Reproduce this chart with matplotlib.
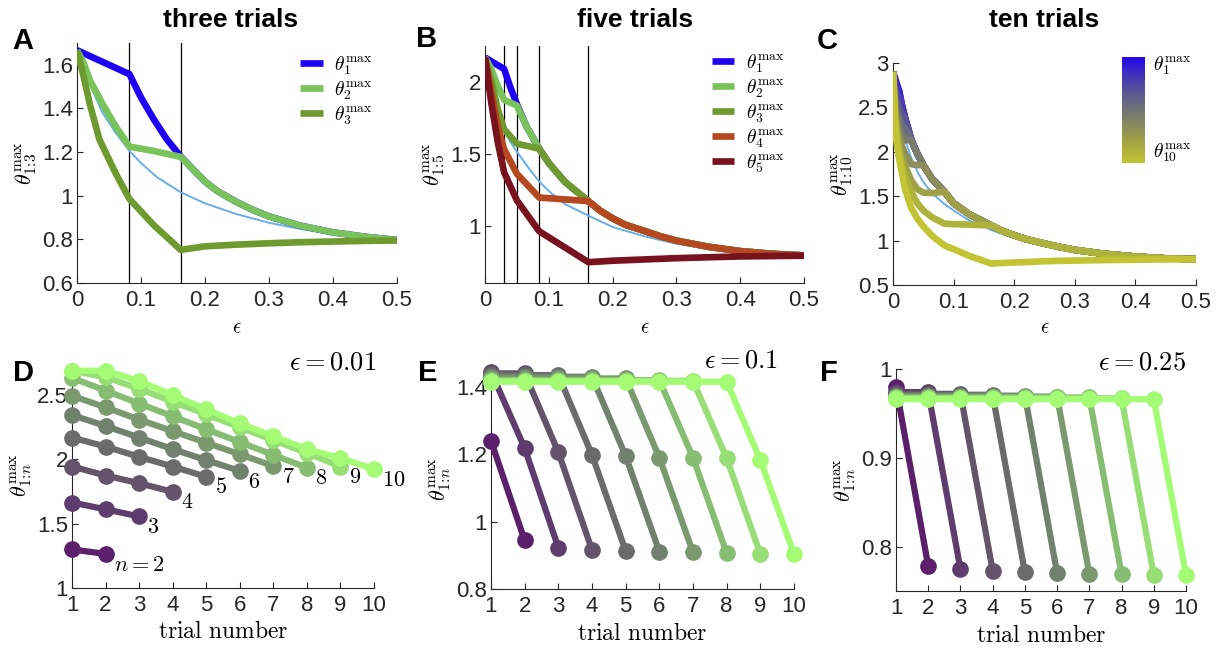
import matplotlib
matplotlib.use('Agg')
import matplotlib.pyplot as plt
import numpy as np
from matplotlib.colors import LinearSegmentedColormap
from matplotlib.ticker import FormatStrFormatter

plt.rcParams['font.family'] = ['Liberation Sans', 'DejaVu Sans']
plt.rcParams['mathtext.fontset'] = 'cm'

W, H = 1220, 650

# ---------------- panel A: three trials ----------------
a_kinks = [0.082, 0.162]
a_thin_eps = [0, 0.01, 0.02, 0.04, 0.06, 0.082, 0.1, 0.125, 0.162, 0.2, 0.25, 0.3, 0.35, 0.4, 0.45, 0.5]
a_thin = [1.667, 1.585, 1.51, 1.38, 1.29, 1.205, 1.15, 1.085, 1.016, 0.965, 0.915, 0.876, 0.847, 0.825, 0.808, 0.797]
a_env_eps = [0.18, 0.2, 0.22, 0.25, 0.275, 0.3, 0.35, 0.4, 0.45, 0.5]
a_env = [1.125, 1.065, 1.02, 0.97, 0.935, 0.905, 0.862, 0.832, 0.812, 0.797]
a1_eps = [0, 0.082, 0.1, 0.12, 0.14, 0.162]
a1 = [1.667, 1.557, 1.45, 1.35, 1.26, 1.18]
a2_eps = [0, 0.01, 0.02, 0.04, 0.06, 0.082, 0.12, 0.162]
a2 = [1.667, 1.61, 1.53, 1.42, 1.32, 1.225, 1.205, 1.178]
a3_eps = [0, 0.01, 0.02, 0.035, 0.06, 0.082, 0.12, 0.162, 0.2, 0.25, 0.3, 0.35, 0.4, 0.45, 0.5]
a3 = [1.667, 1.55, 1.42, 1.258, 1.105, 0.985, 0.865, 0.752, 0.768, 0.776, 0.782, 0.787, 0.79, 0.793, 0.795]

# ---------------- panel B: five trials ----------------
b_kinks = [0.03, 0.05, 0.085, 0.162]
b_thin_eps = [0, 0.01, 0.02, 0.03, 0.04, 0.05, 0.07, 0.085, 0.1, 0.125, 0.162, 0.2, 0.25, 0.3, 0.35, 0.4, 0.45, 0.5]
b_thin = [2.17, 1.97, 1.80, 1.665, 1.58, 1.515, 1.39, 1.307, 1.24, 1.15, 1.069, 0.99, 0.925, 0.873, 0.842, 0.82, 0.803, 0.792]
b_env_eps = [0.03, 0.04, 0.05, 0.065, 0.085, 0.1, 0.125, 0.162, 0.18, 0.2, 0.22, 0.25, 0.275, 0.3, 0.35, 0.4, 0.45, 0.5]
b_env = [2.09, 1.96, 1.845, 1.69, 1.535, 1.435, 1.305, 1.17, 1.105, 1.05, 1.005, 0.962, 0.925, 0.895, 0.852, 0.822, 0.803, 0.792]
b1_eps = [0]
b1 = [2.17]
b2_eps = [0, 0.01, 0.02, 0.03, 0.05]
b2 = [2.17, 2.09, 1.97, 1.875, 1.835]
b3_eps = [0, 0.01, 0.02, 0.03, 0.05, 0.085]
b3 = [2.17, 2.01, 1.81, 1.67, 1.57, 1.535]
b4_eps = [0, 0.01, 0.02, 0.03, 0.05, 0.085, 0.162]
b4 = [2.17, 1.93, 1.69, 1.53, 1.36, 1.195, 1.17]
b5_eps = [0, 0.01, 0.02, 0.03, 0.05, 0.085, 0.162, 0.2, 0.3, 0.4, 0.5]
b5 = [2.17, 1.85, 1.58, 1.37, 1.175, 0.96, 0.745, 0.755, 0.773, 0.785, 0.79]

# ---------------- panel C: ten trials ----------------
c_eps = [0, 0.003, 0.006, 0.01, 0.015, 0.02, 0.03, 0.04, 0.05, 0.065, 0.085,
         0.1, 0.125, 0.162, 0.18, 0.2, 0.22, 0.25, 0.275, 0.3, 0.35, 0.4, 0.45, 0.5]
c_thin = [2.9, 2.72, 2.6, 2.45, 2.28, 2.14, 1.93, 1.78, 1.66, 1.53, 1.41,
          1.34, 1.23, 1.12, 1.075, 1.03, 0.995, 0.95, 0.918, 0.89, 0.85, 0.82, 0.80, 0.79]
c_theta = [
    [2.9, 2.84, 2.77, 2.69, 2.52, 2.38, 2.14, 1.98, 1.85, 1.69, 1.55, 1.42, 1.30, 1.17, 1.11, 1.06, 1.015, 0.966, 0.928, 0.895, 0.85, 0.82, 0.80, 0.79],
    [2.9, 2.80, 2.74, 2.69, 2.52, 2.38, 2.14, 1.98, 1.85, 1.69, 1.55, 1.42, 1.30, 1.17, 1.11, 1.06, 1.015, 0.966, 0.928, 0.895, 0.85, 0.82, 0.80, 0.79],
    [2.9, 2.75, 2.66, 2.61, 2.52, 2.38, 2.14, 1.98, 1.85, 1.69, 1.55, 1.42, 1.30, 1.17, 1.11, 1.06, 1.015, 0.966, 0.928, 0.895, 0.85, 0.82, 0.80, 0.79],
    [2.9, 2.70, 2.58, 2.50, 2.41, 2.38, 2.14, 1.98, 1.85, 1.69, 1.55, 1.42, 1.30, 1.17, 1.11, 1.06, 1.015, 0.966, 0.928, 0.895, 0.85, 0.82, 0.80, 0.79],
    [2.9, 2.64, 2.50, 2.39, 2.30, 2.26, 2.14, 1.98, 1.85, 1.69, 1.55, 1.42, 1.30, 1.17, 1.11, 1.06, 1.015, 0.966, 0.928, 0.895, 0.85, 0.82, 0.80, 0.79],
    [2.9, 2.58, 2.42, 2.28, 2.19, 2.13, 2.13, 1.98, 1.85, 1.69, 1.55, 1.42, 1.30, 1.17, 1.11, 1.06, 1.015, 0.966, 0.928, 0.895, 0.85, 0.82, 0.80, 0.79],
    [2.9, 2.52, 2.34, 2.18, 2.06, 1.98, 1.86, 1.85, 1.85, 1.69, 1.55, 1.42, 1.30, 1.17, 1.11, 1.06, 1.015, 0.966, 0.928, 0.895, 0.85, 0.82, 0.80, 0.79],
    [2.9, 2.46, 2.26, 2.08, 1.94, 1.84, 1.68, 1.58, 1.54, 1.535, 1.55, 1.42, 1.30, 1.17, 1.11, 1.06, 1.015, 0.966, 0.928, 0.895, 0.85, 0.82, 0.80, 0.79],
    [2.9, 2.42, 2.20, 2.01, 1.85, 1.73, 1.55, 1.42, 1.34, 1.26, 1.19, 1.185, 1.18, 1.17, 1.11, 1.06, 1.015, 0.966, 0.928, 0.895, 0.85, 0.82, 0.80, 0.79],
    [2.9, 2.35, 2.10, 1.925, 1.75, 1.58, 1.37, 1.25, 1.16, 1.05, 0.945, 0.904, 0.83, 0.742, 0.748, 0.753, 0.758, 0.768, 0.772, 0.775, 0.781, 0.785, 0.788, 0.79],
]

# ---------------- panels D-F: value per trial, for n = 2..10 ----------------
n_values = [2, 3, 4, 5, 6, 7, 8, 9, 10]
d_vals = [
    [1.30, 1.265],
    [1.665, 1.612, 1.557],
    [1.945, 1.875, 1.815, 1.748],
    [2.17, 2.10, 2.02, 1.945, 1.865],
    [2.345, 2.26, 2.17, 2.08, 1.995, 1.91],
    [2.495, 2.405, 2.31, 2.22, 2.13, 2.04, 1.948],
    [2.635, 2.535, 2.435, 2.335, 2.235, 2.135, 2.035, 1.935],
    [2.69, 2.64, 2.55, 2.45, 2.35, 2.25, 2.15, 2.05, 1.945],
    [2.69, 2.69, 2.61, 2.50, 2.39, 2.28, 2.18, 2.08, 2.01, 1.925],
]
e_vals = [
    [1.24, 0.944],
    [1.445, 1.218, 0.923],
    [1.44, 1.44, 1.206, 0.916],
    [1.435, 1.435, 1.435, 1.198, 0.913],
    [1.43, 1.43, 1.43, 1.43, 1.195, 0.911],
    [1.425, 1.425, 1.425, 1.425, 1.425, 1.19, 0.909],
    [1.42, 1.42, 1.42, 1.42, 1.42, 1.42, 1.19, 0.907],
    [1.418, 1.418, 1.418, 1.418, 1.418, 1.418, 1.418, 1.188, 0.904],
    [1.415, 1.415, 1.415, 1.415, 1.415, 1.415, 1.415, 1.415, 1.183, 0.904],
]
f_vals = [
    [0.980, 0.778],
    [0.974, 0.974, 0.7745],
    [0.972, 0.972, 0.972, 0.773],
    [0.971, 0.971, 0.971, 0.971, 0.771],
    [0.970, 0.970, 0.970, 0.970, 0.970, 0.770],
    [0.969, 0.969, 0.969, 0.969, 0.969, 0.969, 0.769],
    [0.968, 0.968, 0.968, 0.968, 0.968, 0.968, 0.968, 0.769],
    [0.967, 0.967, 0.967, 0.967, 0.967, 0.967, 0.967, 0.967, 0.768],
    [0.966, 0.966, 0.966, 0.966, 0.966, 0.966, 0.966, 0.966, 0.966, 0.768],
]

# colours
thin_col = '#6aaee8'
a_cols = ['#1f00f5', '#78c45a', '#6e9a30']
b_cols = ['#1f00f5', '#78c45a', '#6e9a30', '#b5481f', '#78121f']
c_cols = [(0.15, 0.02, 0.92), (0.22, 0.14, 0.80), (0.29, 0.25, 0.68), (0.36, 0.34, 0.58),
          (0.42, 0.42, 0.50), (0.48, 0.49, 0.42), (0.55, 0.56, 0.35), (0.62, 0.63, 0.28),
          (0.69, 0.70, 0.23), (0.76, 0.77, 0.20)]
n_cols = [(0.36, 0.12, 0.42), (0.37, 0.24, 0.43), (0.39, 0.33, 0.42), (0.42, 0.42, 0.42),
          (0.44, 0.51, 0.43), (0.48, 0.60, 0.43), (0.53, 0.74, 0.45), (0.59, 0.87, 0.46),
          (0.64, 0.99, 0.45)]

fig = plt.figure(figsize=(W / 100, H / 100), dpi=100)


def px_axes(left, top, right, bottom):
    return fig.add_axes([left / W, 1 - bottom / H, (right - left) / W, (bottom - top) / H])


def ftext(x, y, s, **kw):
    fig.text(x / W, 1 - y / H, s, **kw)


def style(ax):
    for side in ['top', 'right']:
        ax.spines[side].set_visible(False)
    for side in ['left', 'bottom']:
        ax.spines[side].set_linewidth(0.8)
        ax.spines[side].set_color('#262626')
    ax.tick_params(direction='in', length=4, width=0.8, labelsize=16, colors='#262626')
    ax.tick_params(axis='x', pad=5)
    ax.tick_params(axis='y', pad=3)
    ax.yaxis.set_major_formatter(FormatStrFormatter('%g'))
    ax.xaxis.set_major_formatter(FormatStrFormatter('%g'))


LW = 4.8
thick = dict(lw=LW, solid_joinstyle='round', solid_capstyle='butt')
leg_kw = dict(loc='upper right', frameon=False, fontsize=14, handlelength=1.15,
              handletextpad=0.6, labelspacing=0.1, borderpad=0.0)

# ---- A ----
axA = px_axes(77, 43, 397, 283)
for k in a_kinks:
    axA.axvline(k, color='black', lw=0.9, zorder=1)
axA.plot(a_thin_eps, a_thin, color=thin_col, lw=1.4, zorder=2)
axA.plot(a1_eps + a_env_eps, a1 + a_env, color=a_cols[0], label=r'$\theta_1^{\max}$', zorder=3, **thick)
axA.plot(a2_eps + a_env_eps, a2 + a_env, color=a_cols[1], label=r'$\theta_2^{\max}$', zorder=4, **thick)
axA.plot(a3_eps, a3, color=a_cols[2], label=r'$\theta_3^{\max}$', zorder=5, **thick)
axA.set_xlim(0, 0.5)
axA.set_ylim(0.6, 1.7)
axA.set_yticks([0.6, 0.8, 1, 1.2, 1.4, 1.6])
axA.set_xticks([0, 0.1, 0.2, 0.3, 0.4, 0.5])
style(axA)
axA.set_ylabel(r'$\theta^{\max}_{1\!:\!3}$', fontsize=16, labelpad=2)
axA.set_xlabel(r'$\epsilon$', fontsize=15, labelpad=5)
axA.legend(bbox_to_anchor=(0.955, 0.995), **leg_kw)

# ---- B ----
axB = px_axes(485, 46, 804, 283)
for k in b_kinks:
    axB.axvline(k, color='black', lw=0.9, zorder=1)
axB.plot(b_thin_eps, b_thin, color=thin_col, lw=1.4, zorder=2)
b_curves = [(b1_eps + b_env_eps, b1 + b_env),
            (b2_eps + b_env_eps[3:], b2 + b_env[3:]),
            (b3_eps + b_env_eps[5:], b3 + b_env[5:]),
            (b4_eps + b_env_eps[8:], b4 + b_env[8:]),
            (b5_eps, b5)]
for i, (xs, ys) in enumerate(b_curves):
    axB.plot(xs, ys, color=b_cols[i], label=r'$\theta_%d^{\max}$' % (i + 1), zorder=3 + i, **thick)
axB.set_xlim(0, 0.5)
axB.set_ylim(0.6, 2.25)
axB.set_yticks([1, 1.5, 2])
axB.set_xticks([0, 0.1, 0.2, 0.3, 0.4, 0.5])
style(axB)
axB.set_ylabel(r'$\theta^{\max}_{1\!:\!5}$', fontsize=16, labelpad=2)
axB.set_xlabel(r'$\epsilon$', fontsize=15, labelpad=5)
axB.legend(bbox_to_anchor=(0.97, 1.015), **leg_kw)

# ---- C ----
axC = px_axes(893, 63, 1196, 285)
axC.plot(c_eps, c_thin, color=thin_col, lw=1.4, zorder=2)
for i, ys in enumerate(c_theta):
    axC.plot(c_eps, ys, color=c_cols[i], zorder=3 + i, **thick)
axC.set_xlim(0, 0.5)
axC.set_ylim(0.5, 3)
axC.set_yticks([0.5, 1, 1.5, 2, 2.5, 3])
axC.set_xticks([0, 0.1, 0.2, 0.3, 0.4, 0.5])
style(axC)
axC.set_ylabel(r'$\theta^{\max}_{1\!:\!10}$', fontsize=16, labelpad=2)
axC.set_xlabel(r'$\epsilon$', fontsize=15, labelpad=4)

# gradient key for C
axK = px_axes(1122, 57, 1145, 163)
axK.imshow(np.linspace(0, 1, 256)[:, None], aspect='auto',
           cmap=LinearSegmentedColormap.from_list('c10', c_cols))
axK.axis('off')
ftext(1153, 66, r'$\theta_1^{\max}$', fontsize=14, va='center', ha='left')
ftext(1153, 153, r'$\theta_{10}^{\max}$', fontsize=14, va='center', ha='left')

# ---- D, E, F ----
trial_ticks = list(range(1, 11))


def trial_panel(rect, vals, ylim, yticks, eps_text, eps_xy):
    ax = px_axes(*rect)
    for i, ys in enumerate(vals):
        ax.plot(range(1, len(ys) + 1), ys, '-o', color=n_cols[i], lw=4.5, ms=11,
                clip_on=False, zorder=3 + i)
    ax.set_xlim(1, 10)
    ax.set_ylim(*ylim)
    ax.set_xticks(trial_ticks)
    ax.set_yticks(yticks)
    style(ax)
    ax.set_xlabel(r'$\mathrm{trial\ number}$', fontsize=17, labelpad=4)
    ax.set_ylabel(r'$\theta^{\max}_{1\!:\!n}$', fontsize=16, labelpad=2)
    ftext(eps_xy[0], eps_xy[1], eps_text, fontsize=19, ha='right', va='center')
    return ax


axD = trial_panel((72, 363, 374, 588), d_vals, (1, 2.75), [1, 1.5, 2, 2.5],
                  r'$\epsilon = 0.01$', (376, 362))
for i, ys in enumerate(d_vals):
    lab = r'$n = 2$' if i == 0 else r'$%d$' % n_values[i]
    axD.annotate(lab, (len(ys), ys[-1]), xytext=(6, -8), textcoords='offset points',
                 fontsize=16, ha='left', va='center')

axE = trial_panel((491, 370, 794, 589), e_vals, (0.8, 1.45), [0.8, 1, 1.2, 1.4],
                  r'$\epsilon = 0.1$', (778, 361))
axF = trial_panel((896, 369, 1186, 591), f_vals, (0.75, 1.0), [0.8, 0.9, 1],
                  r'$\epsilon = 0.25$', (1186, 362))

# titles and panel letters
ftext(231, 20, 'three trials', fontsize=19, fontweight='bold', ha='center', va='center')
ftext(635, 20, 'five trials', fontsize=19, fontweight='bold', ha='center', va='center')
ftext(1044, 20, 'ten trials', fontsize=19, fontweight='bold', ha='center', va='center')
for letter, x, y in [('A', 23, 41), ('B', 427, 39), ('C', 827, 41),
                     ('D', 23, 373), ('E', 428, 373), ('F', 829, 373)]:
    ftext(x, y, letter, fontsize=21, fontweight='bold', ha='center', va='center')

fig.savefig('out.png', dpi=100)
